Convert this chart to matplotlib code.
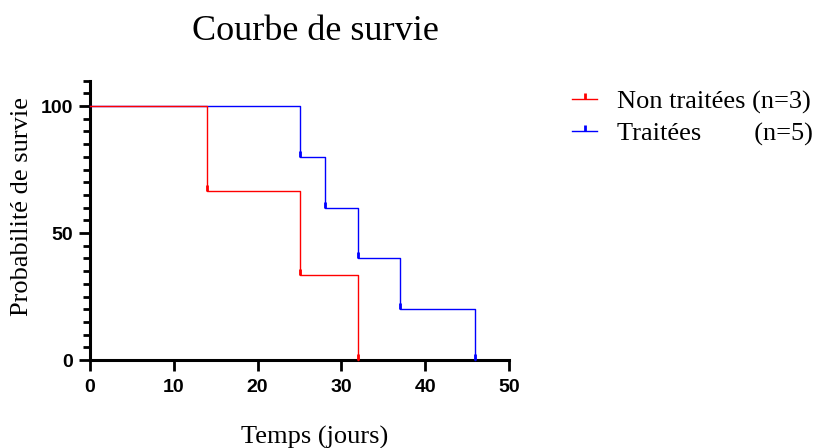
import matplotlib
matplotlib.use("Agg")
import matplotlib.pyplot as plt
from matplotlib.lines import Line2D
from matplotlib.ticker import MultipleLocator

# Data (Kaplan-Meier)
times_non = [0, 14, 25, 32]
surv_non = [100, 66.67, 33.33, 0]
times_tr = [0, 25, 28, 32, 37, 46]
surv_tr = [100, 80, 60, 40, 20, 0]
labels = ["Non traitées (n=3)", "Traitées        (n=5)"]
colors = ["#FF0000", "#0000FF"]
xticks = [0, 10, 20, 30, 40, 50]
yticks = [0, 50, 100]

fig = plt.figure(figsize=(8.16, 4.48), dpi=100)
ax = fig.add_axes([90/816, 1-360/448, (509-90)/816, (360-80.7)/448])

serif = "Liberation Serif"
sans = "Liberation Sans"

# blue first, red on top
ax.step(times_tr, surv_tr, where="post", color=colors[1], lw=1.0, zorder=5, clip_on=False)
ax.plot(times_tr[1:], surv_tr[1:], linestyle="none", marker=2, markersize=4, mew=2,
        color=colors[1], zorder=6, clip_on=False)
ax.step(times_non, surv_non, where="post", color=colors[0], lw=1.0, zorder=5, clip_on=False)
ax.plot(times_non[1:], surv_non[1:], linestyle="none", marker=2, markersize=4, mew=2,
        color=colors[0], zorder=6, clip_on=False)

ax.set_xlim(0, 50)
ax.set_ylim(0, 110)
ax.set_xticks(xticks)
ax.set_yticks(yticks)
ax.yaxis.set_minor_locator(MultipleLocator(5))
for s in ["top", "right"]:
    ax.spines[s].set_visible(False)
for s in ["left", "bottom"]:
    ax.spines[s].set_linewidth(2.2)
ax.tick_params(axis="x", which="major", length=8, width=2, labelsize=14, pad=5.5)
ax.tick_params(axis="y", which="major", length=8, width=2, labelsize=14, pad=4)
ax.tick_params(axis="y", which="minor", length=5, width=2)
for lab in ax.get_xticklabels() + ax.get_yticklabels():
    lab.set_fontfamily(sans)
    lab.set_fontweight("bold")

fig.text(315/816, 1-31/448, "Courbe de survie", ha="center", va="center",
         fontsize=26, family=serif)
fig.text(315/816, 1-437/448, "Temps (jours)", ha="center", va="center",
         fontsize=19, family=serif)
fig.text(22/816, 1-206/448, "Probabilité de survie", ha="center", va="center",
         rotation=90, fontsize=19, family=serif)

handles = [Line2D([0], [0], color=c, lw=1.0, marker=2, markersize=4, mew=2) for c in colors]
fig.legend(handles, labels, loc="upper left", bbox_to_anchor=(572/816, 1-90/448),
           frameon=False, borderpad=0, borderaxespad=0, handlelength=0.95,
           handletextpad=0.75, labelspacing=0.3,
           prop={"family": serif, "size": 19})

fig.savefig("out.png", dpi=100)
